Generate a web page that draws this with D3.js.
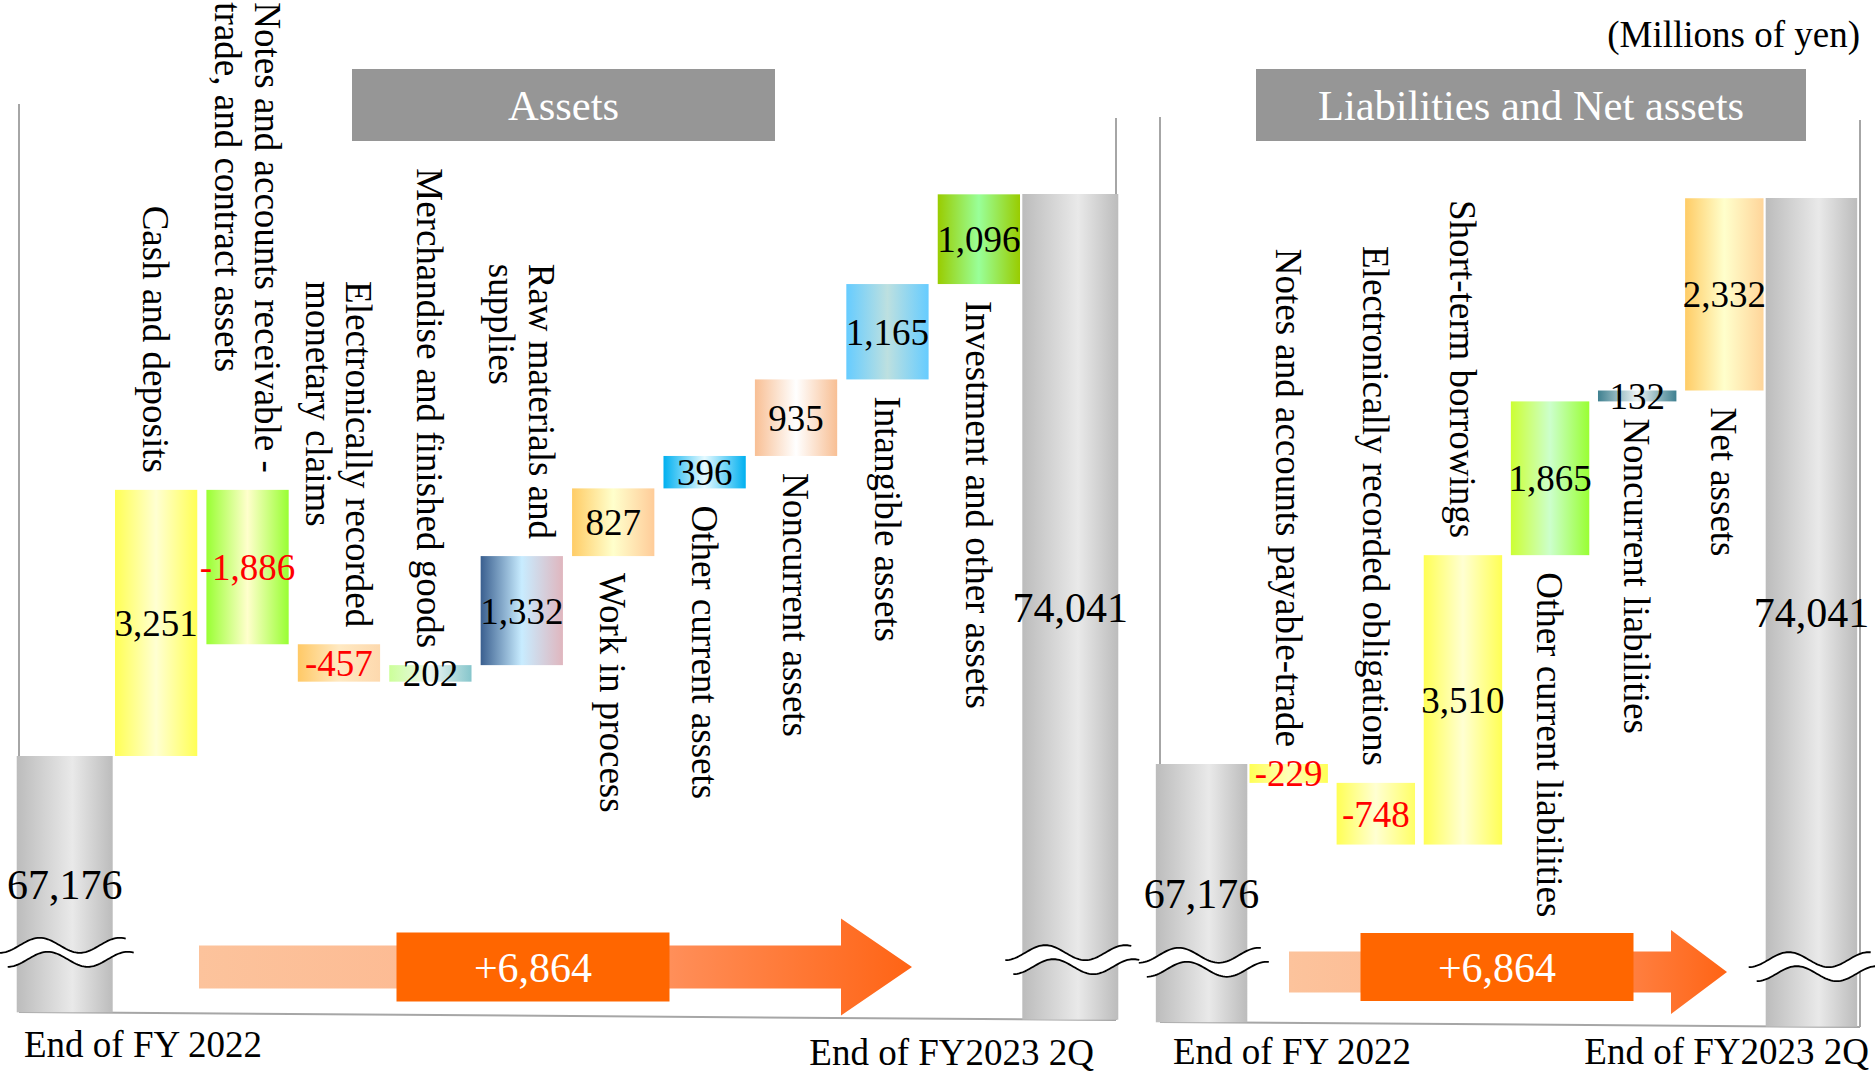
<!DOCTYPE html>
<html><head><meta charset="utf-8">
<script src="https://cdn.jsdelivr.net/npm/d3@7"></script>
<style>html,body{margin:0;padding:0;background:#fff;}svg{display:block;font-family:"Liberation Serif","Times New Roman",serif;}</style>
</head><body>
<svg id="chart" width="1875" height="1074"></svg>
<script>
// ---------- DATA ----------
const assetCategories = [
  ["End of FY 2022"],
  ["Cash and deposits"],
  ["Notes and accounts receivable -", "trade, and contract assets"],
  ["Electronically recorded", "monetary claims"],
  ["Merchandise and finished goods"],
  ["Raw materials and", "supplies"],
  ["Work in process"],
  ["Other current assets"],
  ["Noncurrent assets"],
  ["Intangible assets"],
  ["Investment and other assets"],
  ["End of FY2023 2Q"]
];
const assetStart = 67176;
const assetChanges = [3251, -1886, -457, 202, 1332, 827, 396, 935, 1165, 1096];
const assetEnd = 74041;

const liabCategories = [
  ["End of FY 2022"],
  ["Notes and accounts payable-trade"],
  ["Electronically recorded obligations"],
  ["Short-term borrowings"],
  ["Other current liabilities"],
  ["Noncurrent liabilities"],
  ["Net assets"],
  ["End of FY2023 2Q"]
];
const liabStart = 67176;
const liabChanges = [-229, -748, 3510, 1865, 132, 2332];
const liabEnd = 74041;

const totalChange = 6864;
const panelTitles = ["Assets", "Liabilities and Net assets"];
const unitLabel = "(Millions of yen)";

// ---------- STYLES ----------
const gray = ["#bcbcbc", "#e9e9e9", "#bcbcbc"];
const assetColors = [
  gray,
  ["#ffff55", "#ffffd2", "#ffff55"],
  ["#99ff33", "#ffffcc", "#99ff33"],
  ["#ffc966", "#ffe9c2", "#fdd9ae"],
  ["#ccff99", "#eef6f2", "#86c6cc"],
  ["#3a5f8f", "#c8ecff", "#e0b6be"],
  ["#ffcc66", "#ffffcc", "#ffcc99"],
  ["#00b0f0", "#e6faff", "#00b0f0"],
  ["#f8bf94", "#ffffff", "#f8bf94"],
  ["#66ccff", "#bde0e0", "#66ccff"],
  ["#99cc00", "#99ff99", "#99cc00"],
  gray
];
const liabColors = [
  gray,
  ["#ffff55", "#ffffb8", "#ffff55"],
  ["#ffff55", "#ffffd2", "#ffff66"],
  ["#ffff55", "#ffffd2", "#ffff55"],
  ["#ccff33", "#ccffcc", "#99ff33"],
  ["#3f8090", "#eef4f4", "#3f8090"],
  ["#ffcc66", "#ffffcc", "#ffd59a"],
  gray
];

const panels = [
  {cats: assetCategories, start: assetStart, changes: assetChanges, end: assetEnd, colors: assetColors,
   title: panelTitles[0], titleBox: [352, 69, 775, 141],
   walls: [19, 1116], wallTop: [104, 118], floor: [1012, 1020],
   xRange: [19, 1116], yRange: [756, 194],
   arrow: {x0: 199, tip: 912, cy: 967, shaftH: 43, headLen: 71, headH: 97, boxW: 273, boxH: 69, boxC: 533, boxCy: 967},
   startLabel: [24, 1057], endLabel: [1094, 1065]},
  {cats: liabCategories, start: liabStart, changes: liabChanges, end: liabEnd, colors: liabColors,
   title: panelTitles[1], titleBox: [1256, 69, 1806, 141],
   walls: [1160, 1860], wallTop: [117, 120], floor: [1022, 1027],
   xRange: [1158, 1855], yRange: [764, 198],
   arrow: {x0: 1289, tip: 1727, cy: 972, shaftH: 41, headLen: 56, headH: 84, boxW: 273, boxH: 68, boxC: 1497, boxCy: 967},
   startLabel: [1173, 1064], endLabel: [1869, 1064]}
];

const loc = d3.formatLocale({decimal: ".", thousands: ",", grouping: [3], currency: ["", ""], minus: "-"});
const fmt = loc.format(",");
const fmtPlus = loc.format("+,");

const svg = d3.select("#chart");
const defs = svg.append("defs");

// unit label
svg.append("text").attr("x", 1860).attr("y", 47).attr("text-anchor", "end")
  .attr("font-size", 37).attr("fill", "#000").text(unitLabel);

panels.forEach((p, pi) => {
  const g = svg.append("g");
  const n = p.cats.length;
  const x = d3.scaleBand().domain(d3.range(n)).range(p.xRange).paddingInner(0.1).paddingOuter(0.05);
  const y = d3.scaleLinear().domain([p.start, p.end]).range(p.yRange);
  const bw = x.bandwidth(), step = x.step();
  const floorAt = xx => p.floor[0] + (p.floor[1] - p.floor[0]) * (xx - p.walls[0]) / (p.walls[1] - p.walls[0]);

  // walls
  const wallStyle = s => s.attr("stroke", "#a6a6a6").attr("stroke-width", 2);
  g.append("line").attr("x1", p.walls[0]).attr("y1", p.wallTop[0]).attr("x2", p.walls[0]).attr("y2", p.floor[0]).call(wallStyle);
  g.append("line").attr("x1", p.walls[1]).attr("y1", p.wallTop[1]).attr("x2", p.walls[1]).attr("y2", p.floor[1]).call(wallStyle);
  g.append("line").attr("x1", p.walls[0]).attr("y1", p.floor[0]).attr("x2", p.walls[1]).attr("y2", p.floor[1]).call(wallStyle);

  // title banner
  const tb = p.titleBox;
  g.append("rect").attr("x", tb[0]).attr("y", tb[1]).attr("width", tb[2] - tb[0]).attr("height", tb[3] - tb[1]).attr("fill", "#969696");
  g.append("text").attr("x", (tb[0] + tb[2]) / 2).attr("y", (tb[1] + tb[3]) / 2).attr("dy", "0.35em")
    .attr("text-anchor", "middle").attr("font-size", 42.5).attr("fill", "#fff").text(p.title);

  // gradients
  p.colors.forEach((c, i) => {
    const lg = defs.append("linearGradient").attr("id", `grad${pi}_${i}`).attr("x1", 0).attr("x2", 1).attr("y1", 0).attr("y2", 0);
    lg.append("stop").attr("offset", 0).attr("stop-color", c[0]);
    lg.append("stop").attr("offset", (i === 0 || i === n - 1) ? 0.58 : 0.5).attr("stop-color", c[1]);
    lg.append("stop").attr("offset", 1).attr("stop-color", c[2]);
  });

  // build bars
  const bars = [];
  let cum = p.start;
  bars.push({i: 0, total: true, value: p.start});
  p.changes.forEach((v, k) => {
    const a = cum; cum += v;
    bars.push({i: k + 1, total: false, value: v, from: a, to: cum});
  });
  bars.push({i: n - 1, total: true, value: p.end});

  bars.forEach(b => {
    const cx = x(b.i) + bw / 2;
    if (b.total) {
      const w = step * 1.05;
      b.x0 = cx - w / 2; b.x1 = cx + w / 2;
      b.top = y(b.value); b.bottom = floorAt(cx);
    } else {
      b.x0 = x(b.i); b.x1 = x(b.i) + bw;
      b.top = Math.min(y(b.from), y(b.to)); b.bottom = Math.max(y(b.from), y(b.to));
    }
    b.cx = cx;
  });

  g.selectAll("rect.bar").data(bars).join("rect").attr("class", "bar")
    .attr("x", d => d.x0).attr("y", d => d.top)
    .attr("width", d => d.x1 - d.x0).attr("height", d => Math.max(1, d.bottom - d.top))
    .attr("fill", d => `url(#grad${pi}_${d.i})`);

  // wave breaks on total bars
  bars.filter(b => b.total).forEach(b => {
    const xa = b.x0 - 17, xb = b.x1 + 15;
    const yc = b.bottom - 60;
    const top = [], bot = [];
    for (let xx = xa; xx <= xb; xx += 2) top.push([xx, yc - 7 + 7.5 * Math.cos(2 * Math.PI * (xx - xa) / 80)]);
    for (let xx = xa + 8; xx <= xb + 8; xx += 2) bot.push([xx, yc + 7 + 7.5 * Math.cos(2 * Math.PI * (xx - xa - 8) / 80)]);
    const line = d3.line();
    g.append("path").attr("d", line(top.concat(bot.slice().reverse())) + "Z").attr("fill", "#fff");
    g.append("path").attr("d", line(top)).attr("fill", "none").attr("stroke", "#000").attr("stroke-width", 1.8);
    g.append("path").attr("d", line(bot)).attr("fill", "none").attr("stroke", "#000").attr("stroke-width", 1.8);
  });

  // value labels
  g.selectAll("text.val").data(bars).join("text").attr("class", "val")
    .attr("x", d => d.cx).attr("y", d => (d.top + d.bottom) / 2).attr("dy", "0.35em")
    .attr("text-anchor", "middle")
    .attr("font-size", d => d.total ? 42 : 37)
    .attr("fill", d => (!d.total && d.value < 0) ? "#ff0000" : "#000")
    .text(d => fmt(d.value));

  // rotated category labels for step bars
  const half = p.changes.length / 2;
  const L = 40, gap = 17;
  bars.filter(b => !b.total).forEach((b, k) => {
    const lines = p.cats[b.i];
    const lg = g.append("g").attr("transform", `translate(${b.cx},0) rotate(90)`);
    const texts = lines.map((t, j) => lg.append("text")
      .attr("y", (j - (lines.length - 1) / 2) * L).attr("dy", "0.35em")
      .attr("font-size", 37).attr("fill", "#000").text(t));
    const maxLen = d3.max(texts, t => t.node().getComputedTextLength());
    const sx = k < half ? b.top - gap - maxLen : b.bottom + gap;
    texts.forEach(t => t.attr("x", sx));
  });

  // bottom labels for totals
  g.append("text").attr("x", p.startLabel[0]).attr("y", p.startLabel[1]).attr("font-size", 37).attr("fill", "#000").text(p.cats[0][0]);
  g.append("text").attr("x", p.endLabel[0]).attr("y", p.endLabel[1]).attr("text-anchor", "end").attr("font-size", 37).attr("fill", "#000").text(p.cats[n - 1][0]);

  // arrow
  const a = p.arrow;
  const ag = defs.append("linearGradient").attr("id", `arrowGrad${pi}`).attr("gradientUnits", "userSpaceOnUse")
    .attr("x1", a.x0).attr("x2", a.tip).attr("y1", 0).attr("y2", 0);
  [[0, "#fcc39c"], [0.42, "#fdb890"], [0.68, "#ff8c55"], [1, "#ff6415"]].forEach(s =>
    ag.append("stop").attr("offset", s[0]).attr("stop-color", s[1]));
  const hb = a.tip - a.headLen;
  const pts = [[a.x0, a.cy - a.shaftH / 2], [hb, a.cy - a.shaftH / 2], [hb, a.cy - a.headH / 2], [a.tip, a.cy],
               [hb, a.cy + a.headH / 2], [hb, a.cy + a.shaftH / 2], [a.x0, a.cy + a.shaftH / 2]];
  g.append("path").attr("d", d3.line()(pts) + "Z").attr("fill", `url(#arrowGrad${pi})`);
  g.append("rect").attr("x", a.boxC - a.boxW / 2).attr("y", a.boxCy - a.boxH / 2).attr("width", a.boxW).attr("height", a.boxH).attr("fill", "#ff6600");
  g.append("text").attr("x", a.boxC).attr("y", a.boxCy).attr("dy", "0.35em").attr("text-anchor", "middle")
    .attr("font-size", 42).attr("fill", "#fff").text(fmtPlus(totalChange));
});
</script>
</body></html>
